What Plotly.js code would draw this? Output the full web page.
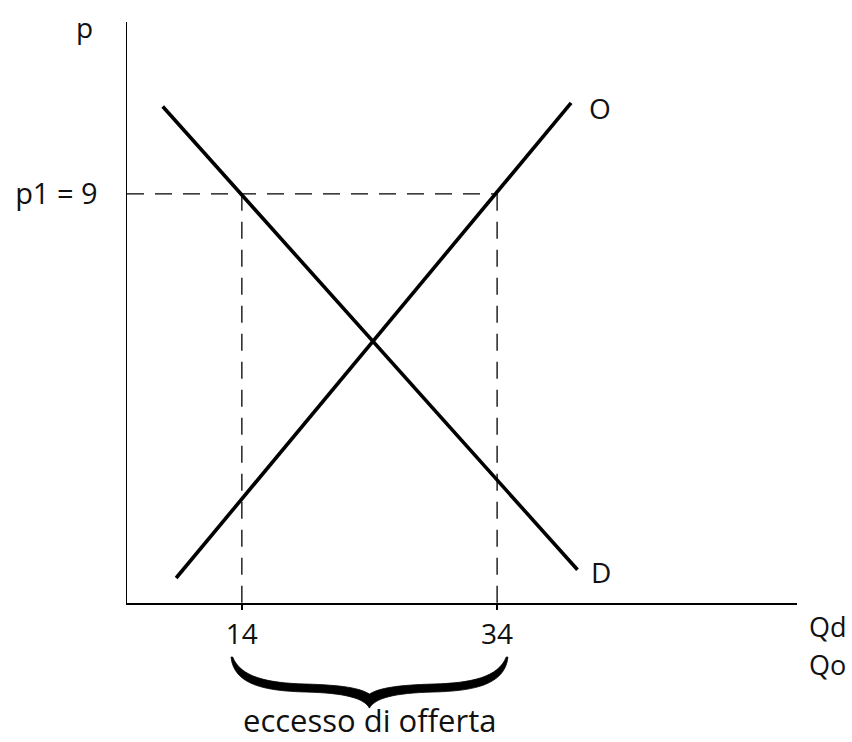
<!DOCTYPE html>
<html>
<head>
<meta charset="utf-8">
<script src="https://cdn.plot.ly/plotly-3.0.1.min.js"></script>
<style>html,body{margin:0;padding:0;background:#fff;}#chart{width:852px;height:742px;}</style>
</head>
<body>
<div id="chart"></div>
<script>
// Data
var demandQ = [7.8, 40.3];
var demandP = [10.92, 0.73];
var supplyQ = [8.85, 39.8];
var supplyP = [0.55, 11.0];
var priceP1 = 9;
var qDemanded = 14;   // Qd at p1
var qSupplied = 34;   // Qo at p1
var xTickVals = [qDemanded, qSupplied];
var xTickText = ['14', '34'];
var yTickVals = [priceP1];
var yTickText = ['p1 = 9'];
var demandLabel = 'D';
var supplyLabel = 'O';
var braceLabel = 'eccesso di offerta';

var FONT = 'Open Sans, sans-serif';
var INK = '#111';

var traces = [
  {x: demandQ, y: demandP, mode: 'lines', line: {color: '#000', width: 3.6}, hoverinfo: 'skip'},
  {x: supplyQ, y: supplyP, mode: 'lines', line: {color: '#000', width: 3.6}, hoverinfo: 'skip'}
];

var xMin = 5, xMax = 57.5, yMin = 0, yMax = 12.78;

// brace path (x in data units, y in paper units)
function bracePath(qa, qb) {
  var xl = qa - 0.85, xr = qb + 0.85, xc = (qa + qb) / 2;
  var yTop = -0.093, pxToPaper = 1 / 581;
  function pt(u, v, side) {
    var x = side < 0 ? xl + u * (xc - xl) : xr - u * (xr - xc);
    var y = yTop - v * pxToPaper;
    return x + ',' + y;
  }
  function half(side) {
    return 'M' + pt(0, 0, side) +
      ' C' + pt(0.02, 28, side) + ' ' + pt(0.25, 34, side) + ' ' + pt(0.54, 35, side) +
      ' C' + pt(0.82, 36, side) + ' ' + pt(0.96, 41, side) + ' ' + pt(1, 51, side) +
      ' L' + pt(1, 37, side) +
      ' C' + pt(0.93, 31, side) + ' ' + pt(0.80, 28, side) + ' ' + pt(0.54, 27, side) +
      ' C' + pt(0.26, 26, side) + ' ' + pt(0.07, 20, side) + ' ' + pt(0.012, 0, side) + ' Z';
  }
  return half(-1) + ' ' + half(1);
}

var dashStyle = {color: '#000', width: 1.3, dash: '17px,11px'};

var shapes = [
  {type: 'line', xref: 'x', yref: 'y', x0: xMin, x1: qSupplied, y0: priceP1, y1: priceP1, line: dashStyle, layer: 'below'},
  {type: 'line', xref: 'x', yref: 'y', x0: qDemanded, x1: qDemanded, y0: priceP1, y1: yMin, line: dashStyle, layer: 'below'},
  {type: 'line', xref: 'x', yref: 'y', x0: qSupplied, x1: qSupplied, y0: priceP1, y1: yMin, line: dashStyle, layer: 'below'},
  {type: 'path', xref: 'x', yref: 'paper', path: bracePath(qDemanded, qSupplied), fillcolor: '#000', line: {color: '#000', width: 0.8}}
];

var annFont = {family: FONT, size: 27, color: INK};
var annotations = [
  {xref: 'paper', yref: 'paper', x: -0.064, y: 0.991, text: 'p', showarrow: false, font: {family: FONT, size: 28, color: INK}, xanchor: 'center', yanchor: 'middle'},
  {xref: 'paper', yref: 'paper', x: 1.046, y: -0.04, text: 'Qd', showarrow: false, font: annFont, xanchor: 'center', yanchor: 'middle'},
  {xref: 'paper', yref: 'paper', x: 1.046, y: -0.105, text: 'Qo', showarrow: false, font: annFont, xanchor: 'center', yanchor: 'middle'},
  {xref: 'x', yref: 'y', x: supplyQ[1], y: supplyP[1], xshift: 29, yshift: -5, text: supplyLabel, showarrow: false, font: {family: FONT, size: 28, color: INK}, xanchor: 'center', yanchor: 'middle'},
  {xref: 'x', yref: 'y', x: demandQ[1], y: demandP[1], xshift: 23, yshift: -2, text: demandLabel, showarrow: false, font: {family: FONT, size: 28, color: INK}, xanchor: 'center', yanchor: 'middle'},
  {xref: 'x', yref: 'paper', x: (qDemanded + qSupplied) / 2, y: -0.2385, text: braceLabel, showarrow: false, font: {family: FONT, size: 31, color: INK}, xanchor: 'center', yanchor: 'bottom', borderpad: 0}
];

var layout = {
  width: 852, height: 742,
  margin: {l: 127, r: 55, t: 22, b: 139},
  paper_bgcolor: '#fff', plot_bgcolor: '#fff',
  showlegend: false,
  font: {family: FONT, color: INK},
  xaxis: {
    range: [xMin, xMax], showline: true, linecolor: '#000', linewidth: 1.5,
    showgrid: false, zeroline: false, ticks: 'outside', ticklen: 5, tickwidth: 1.3, tickcolor: '#000',
    tickvals: xTickVals, ticktext: xTickText,
    tickfont: {family: FONT, size: 28, color: INK}, ticklabelstandoff: 1, fixedrange: true
  },
  yaxis: {
    range: [yMin, yMax], showline: true, linecolor: '#000', linewidth: 1.5,
    showgrid: false, zeroline: false, ticks: '', tickvals: yTickVals, ticktext: yTickText,
    tickfont: {family: FONT, size: 29, color: INK}, ticklabelstandoff: 22, fixedrange: true
  },
  shapes: shapes,
  annotations: annotations
};

Plotly.newPlot('chart', traces, layout, {staticPlot: true, displayModeBar: false});
</script>
</body>
</html>
